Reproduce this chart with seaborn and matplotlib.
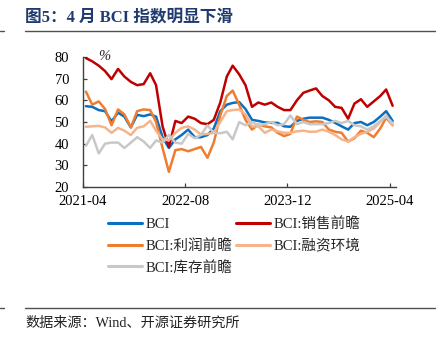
import numpy as np
import pandas as pd
import matplotlib
matplotlib.use("Agg")
import matplotlib.pyplot as plt
from matplotlib.lines import Line2D
import seaborn as sns

# ---------------- data ----------------
start_month = "2021-04"
n_months = 49
tick_labels = ["2021-04", "2022-08", "2023-12", "2025-04"]

bci = [57.3, 57, 55.5, 55, 50.3, 54.3, 52.5, 47.5, 53.3, 52.7, 53.5, 52.5,
       43, 38, 42, 44, 46.5, 43, 43, 44, 47, 55, 58, 58.8,
       59.2, 56, 51, 50.5, 49.8, 49.6, 49.6, 48, 47.8, 50.5, 51.5, 52,
       52, 52, 51, 49.6, 48, 46.5, 49.5, 50, 48.5, 50, 52.5, 55, 50.5]
sales = [79.5, 78, 76, 73.5, 69.8, 74.5, 71, 68.5, 67, 67.5, 72.5, 67,
         48, 38.5, 50.5, 49.5, 52.5, 51.5, 49.5, 49, 51, 59, 71, 76,
         72, 67, 57, 59, 58, 59, 57, 55.5, 55.5, 60, 63.5, 64.5,
         65.5, 62, 60, 57, 56.5, 51.5, 58.5, 60.5, 57, 59.5, 62, 65, 57.5]
profit = [64, 58, 59.5, 56, 48.5, 55.8, 53.5, 47.5, 55, 55.8, 55.5, 50,
          38, 27, 37, 37.5, 36.5, 37.5, 38.5, 33.5, 40.5, 53, 62, 64.5,
          58, 51, 46.5, 48.8, 48, 47.5, 45, 43.5, 44.5, 52.5, 51, 50,
          50.3, 50, 46.5, 45.5, 45, 41, 42.5, 46, 45, 43, 47, 52, 48.5]
finance = [47.8, 48, 48.2, 47.5, 45, 47.3, 46, 44, 47.3, 48, 50.5, 46,
           42, 41.5, 45, 47.3, 48, 46.5, 44.2, 44.5, 45, 50, 55, 55.5,
           55.8, 53.5, 48, 48, 45, 46.5, 45.7, 45, 45, 45.7, 46, 45.5,
           45.5, 46.5, 45.5, 44, 42, 41, 43, 44.5, 45.5, 47, 50, 53, 48.5]
inventory = [39, 44, 35.5, 40, 40.5, 40.5, 38, 40.5, 43, 41, 38, 41.5,
             40.5, 44, 40.5, 40, 44.5, 42.5, 44, 48.5, 45, 44.8, 45.5, 42,
             50, 48.5, 50, 48.5, 49, 50, 48.5, 49, 53, 49, 50, 49,
             49, 49, 49.5, 50.5, 49.5, 50.5, 48.5, 48, 46.5, 48, 50.5, 52.5, 49.5]

names = ["BCI", "BCI:销售前瞻", "BCI:利润前瞻", "BCI:融资环境", "BCI:库存前瞻"]
colors = ["#0A6FC2", "#C00000", "#EE7D31", "#F6B48A", "#C8C8C8"]

dates = pd.date_range(start_month + "-01", periods=n_months, freq="MS") + pd.Timedelta(days=14)
wide = pd.DataFrame({"date": dates, names[0]: bci, names[1]: sales, names[2]: profit,
                     names[3]: finance, names[4]: inventory})
df = wide.melt(id_vars="date", var_name="series", value_name="value")

# ---------------- style ----------------
sns.set_theme(style="white")
plt.rcParams["font.family"] = ["Liberation Serif", "Noto Sans CJK SC", "DejaVu Sans"]
plt.rcParams["axes.unicode_minus"] = False

fig = plt.figure(figsize=(4.4, 3.45), dpi=100)
ax = fig.add_axes([83 / 440, 1 - 187 / 345, (396 - 83) / 440, (187 - 57) / 345])

sns.lineplot(data=df, x="date", y="value", hue="series", hue_order=names,
             palette=dict(zip(names, colors)), linewidth=1.8, legend=False, ax=ax)
for ln in ax.lines:
    ln.set_solid_joinstyle("round")
    ln.set_solid_capstyle("round")

ax.set_ylim(20, 80)
ax.set_yticks(np.arange(20, 81, 10))
ax.set_xlim(pd.Timestamp("2021-04-01"), pd.Timestamp("2025-05-01"))
tick_dates = [pd.Timestamp(t + "-01") for t in tick_labels]
ax.set_xticks(tick_dates)
ax.set_xticklabels(tick_labels)
ax.set_xlabel("")
ax.set_ylabel("")
for s in ["top", "right"]:
    ax.spines[s].set_visible(False)
for s in ["left", "bottom"]:
    ax.spines[s].set_color("#404040")
    ax.spines[s].set_linewidth(1.0)
ax.tick_params(axis="both", direction="in", length=3, width=0.9, color="#404040",
               labelsize=10.5, labelcolor="black")
ax.tick_params(axis="y", pad=10, left=True)
ax.tick_params(axis="x", pad=6, bottom=True)
ax.patch.set_alpha(0)

ax.text(0.05, 1.0, "%", transform=ax.transAxes, fontsize=10.5, va="center", ha="left",
        style="italic")

# legend
handles = [Line2D([], [], color=c, lw=2.2) for c in colors]
order = [0, 2, 4, 1, 3]
fig.legend([handles[i] for i in order], [names[i] for i in order],
           loc="upper left", bbox_to_anchor=(108 / 440, 1 - 217 / 345), ncol=2,
           frameon=False, fontsize=10.5, handlelength=2.3, handletextpad=0.25,
           columnspacing=0.3, labelspacing=0.55, borderpad=0, borderaxespad=0)

# title, rules, source
fig.text(25 / 440, 1 - 17 / 345, "图5：4 月 BCI 指数明显下滑", fontsize=12,
         fontweight="bold", color="#1F3A6E", va="center", ha="left")
for y in [30.5, 307.5]:
    yf = 1 - y / 345
    fig.add_artist(Line2D([25 / 440, 435 / 440], [yf, yf], color="#505050", lw=1.0))
    fig.add_artist(Line2D([0, 4 / 440], [yf, yf], color="#505050", lw=1.0))
fig.text(25 / 440, 1 - 323 / 345, "数据来源：Wind、开源证券研究所", fontsize=10.2,
         color="#222222", va="center", ha="left")

fig.savefig("out.png", dpi=100)
